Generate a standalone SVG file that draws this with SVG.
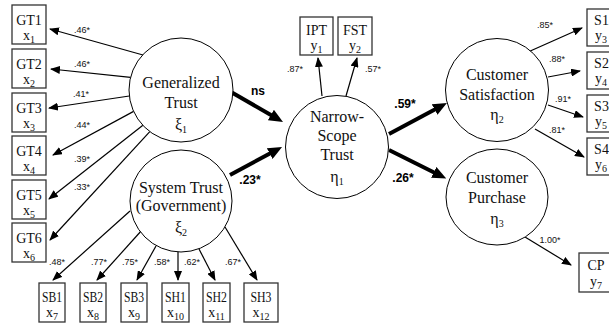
<svg xmlns="http://www.w3.org/2000/svg" width="609" height="325" viewBox="0 0 609 325">
<defs>
<marker id="ah" viewBox="0 0 10 8" markerWidth="10" markerHeight="8" refX="9" refY="4" orient="auto" markerUnits="userSpaceOnUse"><path d="M0,0 L10,4 L0,8 z" fill="#000"/></marker>
<marker id="ahb" viewBox="0 0 14 12" markerWidth="14" markerHeight="12" refX="6" refY="6" orient="auto" markerUnits="userSpaceOnUse"><path d="M0,0 L14,6 L0,12 z" fill="#000"/></marker>
<style>
.lat circle,.lat ellipse{fill:#fff;stroke:#000;stroke-width:1}
.lat text{font-family:"Liberation Serif","Times New Roman",serif;font-size:16px;text-anchor:middle;fill:#111}
.box rect{fill:#fff;stroke:#333;stroke-width:1.3}
.box text{font-family:"Liberation Serif","Times New Roman",serif;font-size:14px;text-anchor:middle;fill:#111}
.sub{font-size:10px}
.thin{stroke:#000;stroke-width:1.2;fill:none;marker-end:url(#ah)}
.thick{stroke:#000;stroke-width:4;fill:none;marker-end:url(#ahb)}
.lbl{font-family:"Liberation Sans",Arial,sans-serif;font-size:9px;text-anchor:middle;fill:#111}
.blbl{font-family:"Liberation Sans",Arial,sans-serif;font-size:12px;font-weight:bold;text-anchor:middle;fill:#000}
</style>
</defs>
<rect width="609" height="325" fill="#fff"/>

<g id="connectors">
<line class="thin" x1="143" y1="55" x2="50" y2="29"/>
<line class="thin" x1="130.6" y1="77.4" x2="51" y2="69"/>
<line class="thin" x1="129.3" y1="96" x2="49" y2="108"/>
<line class="thin" x1="133.6" y1="111.4" x2="53" y2="155"/>
<line class="thin" x1="142.9" y1="125.3" x2="49" y2="199"/>
<line class="thin" x1="149.8" y1="131.6" x2="50" y2="240"/>
<line class="thin" x1="130" y1="211" x2="53" y2="280"/>
<line class="thin" x1="142" y1="230" x2="97" y2="280"/>
<line class="thin" x1="156" y1="246" x2="137" y2="280"/>
<line class="thin" x1="178" y1="252" x2="178" y2="280"/>
<line class="thin" x1="199" y1="249" x2="215" y2="280"/>
<line class="thin" x1="225" y1="227" x2="257" y2="280"/>
<line class="thin" x1="322" y1="96" x2="318" y2="58"/>
<line class="thin" x1="346" y1="96" x2="357" y2="58"/>
<line class="thin" x1="528" y1="52" x2="582" y2="28"/>
<line class="thin" x1="548" y1="77" x2="580" y2="71"/>
<line class="thin" x1="548" y1="105" x2="583" y2="117"/>
<line class="thin" x1="535" y1="129" x2="584" y2="157"/>
<line class="thin" x1="525" y1="237" x2="571" y2="265"/>
<line class="thick" x1="231" y1="92" x2="276.1" y2="118"/>
<line class="thick" x1="230" y1="175" x2="275" y2="150.8"/>
<line class="thick" x1="389" y1="134" x2="439.9" y2="106.7"/>
<line class="thick" x1="389" y1="150" x2="439.1" y2="175"/>
<text class="lbl" x="82" y="33">.46*</text>
<text class="lbl" x="82" y="67">.46*</text>
<text class="lbl" x="81" y="97">.41*</text>
<text class="lbl" x="82" y="128">.44*</text>
<text class="lbl" x="82" y="162">.39*</text>
<text class="lbl" x="82" y="190">.33*</text>
<text class="lbl" x="57" y="265">.48*</text>
<text class="lbl" x="99" y="265">.77*</text>
<text class="lbl" x="130" y="265">.75*</text>
<text class="lbl" x="162" y="265">.58*</text>
<text class="lbl" x="192" y="265">.62*</text>
<text class="lbl" x="233" y="265">.67*</text>
<text class="lbl" x="295" y="72">.87*</text>
<text class="lbl" x="373" y="72">.57*</text>
<text class="lbl" x="545" y="28">.85*</text>
<text class="lbl" x="557" y="62">.88*</text>
<text class="lbl" x="563" y="102">.91*</text>
<text class="lbl" x="557" y="133">.81*</text>
<text class="lbl" x="550" y="243">1.00*</text>
<text class="blbl" x="258" y="95">ns</text>
<text class="blbl" x="250" y="184">.23*</text>
<text class="blbl" x="405" y="108">.59*</text>
<text class="blbl" x="403" y="182">.26*</text>
</g>

<g id="xi1" class="lat">
<circle cx="181" cy="90" r="52"/>
<text x="181" y="88">Generalized</text>
<text x="181" y="108">Trust</text>
<text x="181" y="130">ξ<tspan class="sub" dy="3">1</tspan></text>
</g>
<g id="xi2" class="lat">
<circle cx="181" cy="201" r="51"/>
<text x="181" y="193">System Trust</text>
<text x="181" y="211">(Government)</text>
<text x="181" y="233">ξ<tspan class="sub" dy="3">2</tspan></text>
</g>
<g id="eta1" class="lat">
<circle cx="337" cy="147" r="51.5"/>
<text x="337" y="122">Narrow-</text>
<text x="337" y="141">Scope</text>
<text x="337" y="160">Trust</text>
<text x="337" y="182">η<tspan class="sub" dy="3">1</tspan></text>
</g>
<g id="eta2" class="lat">
<circle cx="497" cy="90" r="51.5"/>
<text x="497" y="80">Customer</text>
<text x="497" y="100">Satisfaction</text>
<text x="497" y="120">η<tspan class="sub" dy="3">2</tspan></text>
</g>
<g id="eta3" class="lat">
<ellipse cx="497" cy="197" rx="51" ry="48"/>
<text x="497" y="183">Customer</text>
<text x="497" y="203">Purchase</text>
<text x="497" y="224">η<tspan class="sub" dy="3">3</tspan></text>
</g>

<g id="GT1" class="box"><rect x="12" y="5" width="34" height="39"/><text x="29" y="25">GT1</text><text x="29" y="40">x<tspan class="sub" dy="3">1</tspan></text></g>
<g id="GT2" class="box"><rect x="12" y="49" width="34" height="39"/><text x="29" y="69">GT2</text><text x="29" y="84">x<tspan class="sub" dy="3">2</tspan></text></g>
<g id="GT3" class="box"><rect x="12" y="93" width="34" height="39"/><text x="29" y="113">GT3</text><text x="29" y="128">x<tspan class="sub" dy="3">3</tspan></text></g>
<g id="GT4" class="box"><rect x="12" y="136" width="34" height="39"/><text x="29" y="156">GT4</text><text x="29" y="171">x<tspan class="sub" dy="3">4</tspan></text></g>
<g id="GT5" class="box"><rect x="12" y="180" width="34" height="39"/><text x="29" y="200">GT5</text><text x="29" y="215">x<tspan class="sub" dy="3">5</tspan></text></g>
<g id="GT6" class="box"><rect x="12" y="223" width="34" height="39"/><text x="29" y="243">GT6</text><text x="29" y="258">x<tspan class="sub" dy="3">6</tspan></text></g>

<g id="SB1" class="box"><rect x="39" y="283" width="26" height="39"/><text x="52" y="302" textLength="20" lengthAdjust="spacingAndGlyphs">SB1</text><text x="52" y="317">x<tspan class="sub" dy="3">7</tspan></text></g>
<g id="SB2" class="box"><rect x="80" y="283" width="26" height="39"/><text x="93" y="302" textLength="20" lengthAdjust="spacingAndGlyphs">SB2</text><text x="93" y="317">x<tspan class="sub" dy="3">8</tspan></text></g>
<g id="SB3" class="box"><rect x="121" y="283" width="26" height="39"/><text x="134" y="302" textLength="20" lengthAdjust="spacingAndGlyphs">SB3</text><text x="134" y="317">x<tspan class="sub" dy="3">9</tspan></text></g>
<g id="SH1" class="box"><rect x="162" y="283" width="27" height="39"/><text x="175.5" y="302" textLength="21" lengthAdjust="spacingAndGlyphs">SH1</text><text x="175.5" y="317">x<tspan class="sub" dy="3">10</tspan></text></g>
<g id="SH2" class="box"><rect x="203" y="283" width="27" height="39"/><text x="216.5" y="302" textLength="21" lengthAdjust="spacingAndGlyphs">SH2</text><text x="216.5" y="317">x<tspan class="sub" dy="3">11</tspan></text></g>
<g id="SH3" class="box"><rect x="244" y="283" width="34" height="39"/><text x="261" y="302" textLength="21" lengthAdjust="spacingAndGlyphs">SH3</text><text x="261" y="317">x<tspan class="sub" dy="3">12</tspan></text></g>

<g id="IPT" class="box"><rect x="300" y="17" width="33" height="38"/><text x="316.5" y="35">IPT</text><text x="316.5" y="50">y<tspan class="sub" dy="3">1</tspan></text></g>
<g id="FST" class="box"><rect x="338" y="17" width="34" height="38"/><text x="355" y="35">FST</text><text x="355" y="50">y<tspan class="sub" dy="3">2</tspan></text></g>

<g id="S1" class="box"><rect x="587" y="9" width="34" height="37"/><text x="601.5" y="25">S1</text><text x="601" y="40">y<tspan class="sub" dy="3">3</tspan></text></g>
<g id="S2" class="box"><rect x="587" y="52" width="34" height="37"/><text x="601.5" y="68">S2</text><text x="601" y="83">y<tspan class="sub" dy="3">4</tspan></text></g>
<g id="S3" class="box"><rect x="587" y="95" width="34" height="37"/><text x="601.5" y="111">S3</text><text x="601" y="126">y<tspan class="sub" dy="3">5</tspan></text></g>
<g id="S4" class="box"><rect x="587" y="138" width="34" height="37"/><text x="601.5" y="154">S4</text><text x="601" y="169">y<tspan class="sub" dy="3">6</tspan></text></g>
<g id="CP" class="box"><rect x="579" y="253" width="34" height="39"/><text x="596" y="270">CP</text><text x="596" y="286">y<tspan class="sub" dy="3">7</tspan></text></g>
</svg>
